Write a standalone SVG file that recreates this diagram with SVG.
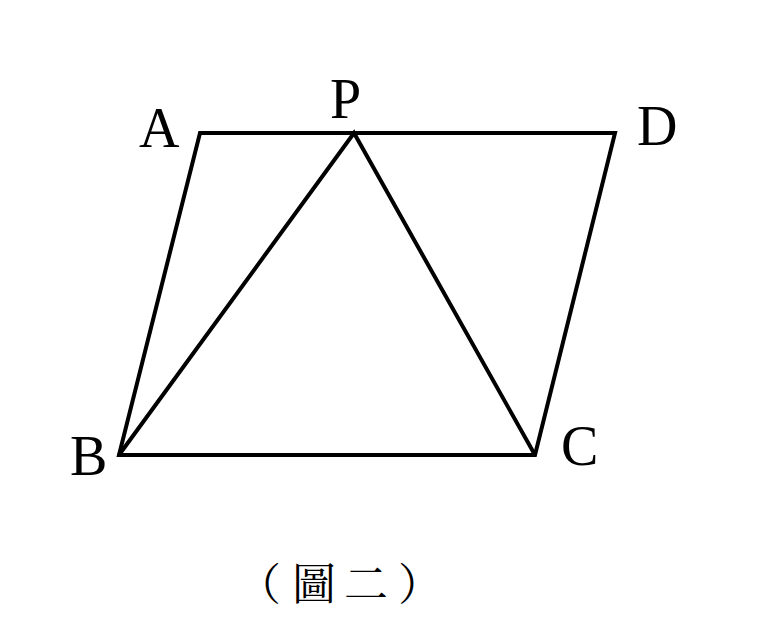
<svg xmlns="http://www.w3.org/2000/svg" width="782" height="639" viewBox="0 0 782 639">
<style>
.edge{fill:none;stroke:#000;stroke-width:4;stroke-linejoin:miter;stroke-linecap:butt}
.lbl{font-family:"Liberation Serif","Times New Roman",serif;font-size:56px;fill:#000}
.cap{font-family:"Noto Serif CJK TC","Noto Sans CJK TC",serif;font-size:44px;fill:#000}
.mid{text-anchor:middle}
</style>
<rect width="782" height="639" fill="#fff"/>
<g id="connectors">
<polygon class="edge" points="200,133 615,133 535,455 119,455"/>
<polyline class="edge" points="119,455 354,133 535,455"/>
</g>
<g id="node-A"><text class="lbl" x="139" y="147">A</text></g>
<g id="node-P"><text class="lbl" x="330" y="118">P</text></g>
<g id="node-D"><text class="lbl" x="637" y="145">D</text></g>
<g id="node-B"><text class="lbl" x="70" y="475">B</text></g>
<g id="node-C"><text class="lbl" x="561" y="465">C</text></g>
<g id="caption">
<text class="cap" x="237" y="600">（</text>
<text class="cap mid" x="314" y="600">圖</text>
<text class="cap mid" x="366" y="600">二</text>
<text class="cap" x="398" y="600">）</text>
</g>
</svg>
